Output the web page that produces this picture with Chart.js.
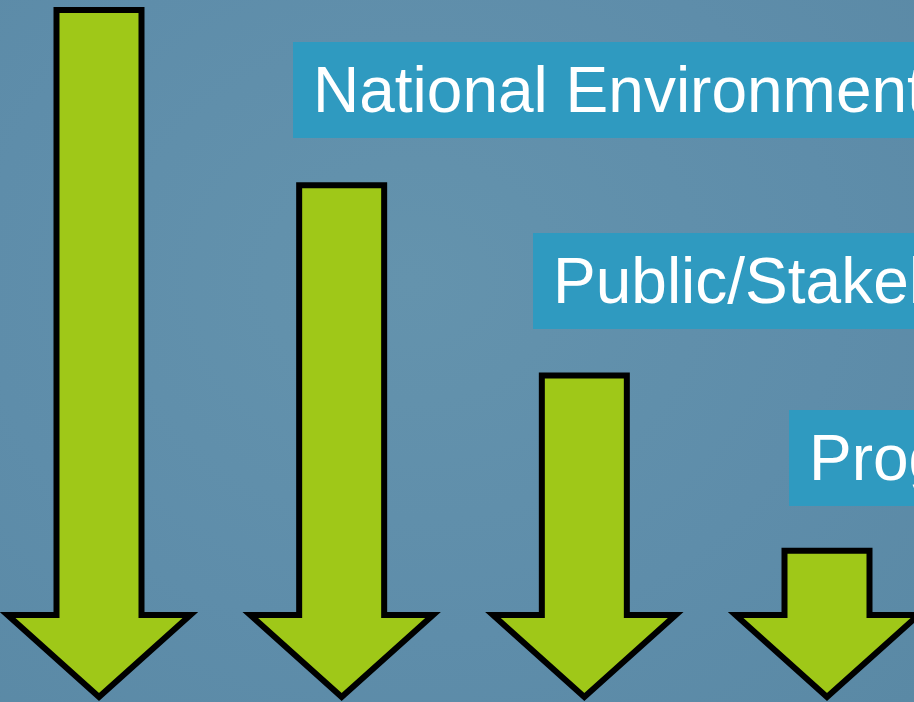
<!DOCTYPE html>
<html>
<head>
<meta charset="utf-8">
<script src="https://cdn.jsdelivr.net/npm/chart.js@4.4.1/dist/chart.umd.min.js"></script>
<style>
    html, body { margin: 0; padding: 0; overflow: hidden; }
    body {
        width: 914px; height: 702px; position: relative;
        background: radial-gradient(ellipse at 45% 40%, #6493ad 0%, #5e8daa 60%, #5a89a5 100%);
    }
    #wrap { position: absolute; left: 0; top: 0; width: 914px; height: 702px; }
    .tag {
        position: absolute; height: 96px; right: -400px;
        background: #2f9ac0; color: #fff;
        font-family: "Liberation Sans", Arial, sans-serif; font-size: 64px;
        line-height: 96px; white-space: nowrap; overflow: hidden;
        box-sizing: border-box; padding-left: 20px;
    }
</style>
</head>
<body>
<div id="wrap"><canvas id="arrowChart" width="914" height="702"></canvas></div>
<div id="tags"></div>
<script>
// Arrow sizes (relative length, longest = 100)
const categories = ['1', '2', '3', '4'];
const arrowValues = [100, 74.5, 46.8, 21.3];

// Labels in the teal boxes
const tagLabels = ['National Environmental Policy Act', 'Public/Stakeholder Involvement', 'Programmatic Agreement'];
const tagLeft = [293, 533, 789];
const tagTop = [42, 233, 410];

// Draw every bar as a down arrow: tip at the base, shaft top at the bar value
const arrowPlugin = {
    id: 'arrows',
    afterDatasetsDraw(chart) {
        const ctx = chart.ctx;
        const meta = chart.getDatasetMeta(0);
        meta.data.forEach(bar => {
            const half = bar.width / 2;
            const headHalf = half * 2.15;
            const tipY = bar.base;
            const headY = tipY - 82;
            ctx.save();
            ctx.beginPath();
            ctx.moveTo(bar.x - half, bar.y);
            ctx.lineTo(bar.x + half, bar.y);
            ctx.lineTo(bar.x + half, headY);
            ctx.lineTo(bar.x + headHalf, headY);
            ctx.lineTo(bar.x, tipY);
            ctx.lineTo(bar.x - headHalf, headY);
            ctx.lineTo(bar.x - half, headY);
            ctx.closePath();
            ctx.fillStyle = '#9fc818';
            ctx.fill();
            ctx.lineWidth = 6;
            ctx.lineJoin = 'miter';
            ctx.strokeStyle = '#000';
            ctx.stroke();
            ctx.restore();
        });
    }
};

const arrowChart = new Chart(document.getElementById('arrowChart'), {
    type: 'bar',
    data: {
        labels: categories,
        datasets: [{
            data: arrowValues,
            backgroundColor: 'rgba(0,0,0,0)',
            borderWidth: 0,
            barThickness: 85
        }]
    },
    options: {
        responsive: false,
        animation: false,
        layout: { padding: { top: 10, bottom: 5, left: 99, right: 87 } },
        scales: {
            x: { display: false, offset: false },
            y: { display: false, min: 0, max: 100 }
        },
        plugins: { legend: { display: false }, tooltip: { enabled: false } }
    },
    plugins: [arrowPlugin]
});

// Teal label boxes
const tags = document.getElementById('tags');
tagLabels.forEach((text, i) => {
    const el = document.createElement('div');
    el.className = 'tag';
    el.style.left = tagLeft[i] + 'px';
    el.style.top = tagTop[i] + 'px';
    el.textContent = text;
    tags.appendChild(el);
});
</script>
</body>
</html>
